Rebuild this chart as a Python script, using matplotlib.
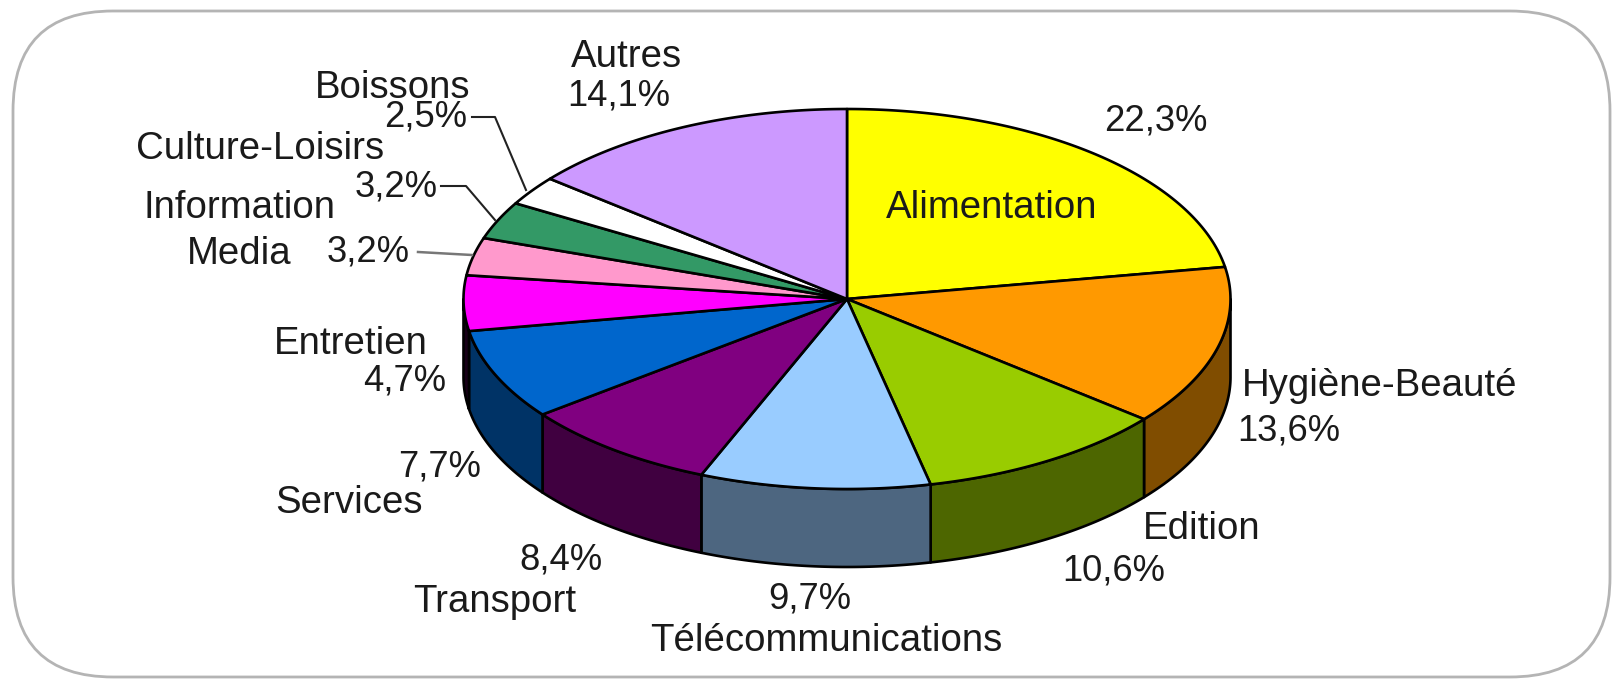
# -*- coding: utf-8 -*-
import numpy as np
import matplotlib
matplotlib.use('Agg')
import matplotlib.pyplot as plt
from matplotlib.patches import FancyBboxPatch

plt.rcParams['font.family'] = ['Liberation Sans', 'DejaVu Sans']

# data, clockwise from the top
categories = ['Alimentation', 'Hygiène-Beauté', 'Edition', 'Télécommunications',
              'Transport', 'Services', 'Entretien', 'Information\nMedia',
              'Culture-Loisirs', 'Boissons', 'Autres']
values = [22.3, 13.6, 10.6, 9.7, 8.4, 7.7, 4.7, 3.2, 3.2, 2.5, 14.1]
top_colors = ['#FFFF00', '#FF9900', '#99CC00', '#99CCFF', '#800080', '#0066CC',
              '#FF00FF', '#FF99CC', '#339966', '#FFFFFF', '#CC99FF']
side_colors = ['#808000', '#804D00', '#4D6600', '#4D6680', '#400040', '#003366',
               '#180018', '#804D66', '#1A4D33', '#808080', '#664D80']

# pie geometry in pixels
cx, cy = 847, 299
rx, ry = 383.5, 190
depth = 78

fig = plt.figure(figsize=(16.17, 6.79), dpi=100)
ax = fig.add_axes([0, 0, 1, 1])
ax.set_xlim(0, 1617)
ax.set_ylim(679, 0)
ax.axis('off')

frame = FancyBboxPatch((13, 11), 1597, 666, boxstyle='round,pad=0,rounding_size=100',
                       fc='white', ec='#b4b4b4', lw=2)
ax.add_patch(frame)


def rim(a0, a1):
    t = np.radians(np.linspace(a0, a1, 120))
    return cx + rx * np.sin(t), cy - ry * np.cos(t)


edges = np.cumsum([0] + values) / sum(values) * 360

# walls first, only the front half of the pie shows them
for i in range(len(values)):
    a0, a1 = max(edges[i], 90), min(edges[i + 1], 270)
    if a1 <= a0:
        continue
    x, y = rim(a0, a1)
    ax.fill(np.r_[x, x[::-1]], np.r_[y, y[::-1] + depth],
            fc=side_colors[i], ec='black', lw=1.9, joinstyle='round')

# then the top
for i in range(len(values)):
    x, y = rim(edges[i], edges[i + 1])
    ax.fill(np.r_[cx, x], np.r_[cy, y], fc=top_colors[i], ec='black', lw=1.9,
            joinstyle='round')

# leader lines of the three small slices
ax.plot([472, 495, 526], [117, 117, 190], color='#222222', lw=1.5)
ax.plot([441, 466, 495], [186, 186, 220], color='#222222', lw=1.5)
ax.plot([418, 472], [252, 255], color='#777777', lw=1.8)

name_txt = dict(fontsize=27.6, ha='center', va='center', color='#1a1a1a')
pct_txt = dict(fontsize=26.2, ha='center', va='center', color='#1a1a1a')


def pct(v):
    return ('%.1f%%' % v).replace('.', ',')


name_pos = [(992, 208), (1380, 386), (1202, 529), (826, 641), (495, 602),
            (349, 503), (351, 344), None, (260, 149), (393, 88), (626, 57)]
pct_pos = [(1156, 121), (1289, 431), (1114, 571), (810, 599), (561, 560),
           (440, 467), (405, 381), (368, 252), (396, 187), (426, 117), (619, 96)]

for i, name in enumerate(categories):
    if name_pos[i] is not None:
        ax.text(name_pos[i][0], name_pos[i][1], name, **name_txt)
    ax.text(pct_pos[i][0], pct_pos[i][1], pct(values[i]), **pct_txt)

# the two lines of this label are not centred on each other
line1, line2 = categories[7].split('\n')
ax.text(239, 208, line1, **name_txt)
ax.text(239, 254, line2, **name_txt)

fig.savefig('out.png', dpi=100, facecolor='white')
